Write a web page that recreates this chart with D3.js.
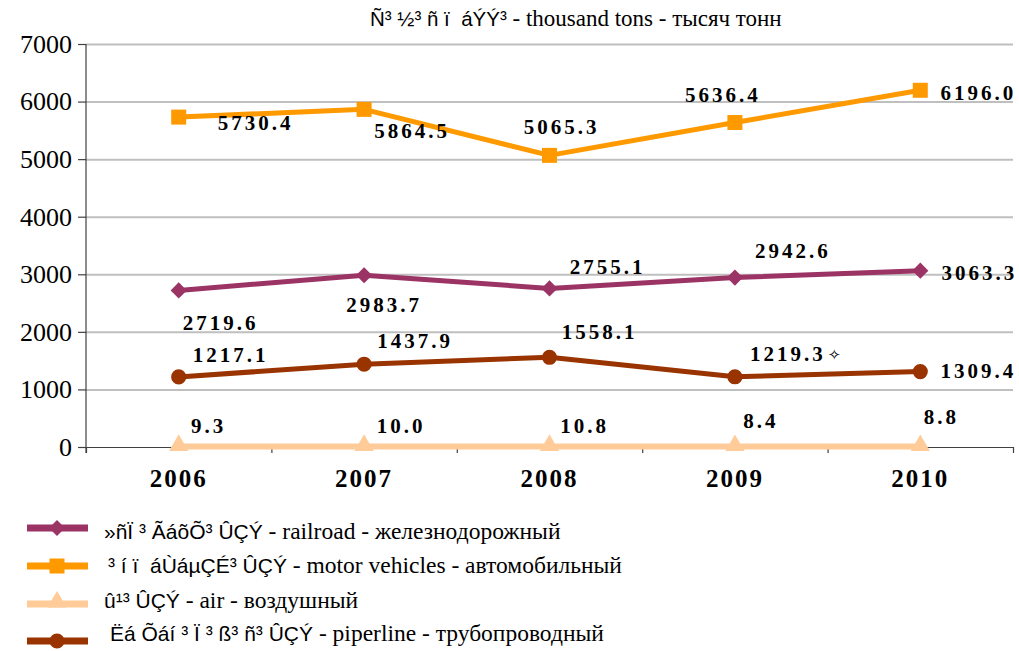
<!DOCTYPE html>
<html>
<head>
<meta charset="utf-8">
<script src="https://cdn.jsdelivr.net/npm/d3@7"></script>
<style>
  body { margin: 0; background: #fff; }
  svg { display: block; }
</style>
</head>
<body>
<svg width="1019" height="651"></svg>
<script>
// years on x axis
const years = ['2006', '2007', '2008', '2009', '2010'];
const yTicks = [0, 1000, 2000, 3000, 4000, 5000, 6000, 7000];

// thousand tons
const railroad = [2719.6, 2983.7, 2755.1, 2942.6, 3063.3];
const motor = [5730.4, 5864.5, 5065.3, 5636.4, 6196.0];
const air = [9.3, 10.0, 10.8, 8.4, 8.8];
const pipeline = [1217.1, 1437.9, 1558.1, 1219.3, 1309.4];

const titleArm = 'Ñ³ ½³ ñ ï  áÝÝ³';
const titleRest = ' - thousand tons - тысяч тонн';
const legendArm = ['»ñÏ ³ ÃáõÕ³ ÛÇÝ', '³ í ï  áÙáµÇÉ³ ÛÇÝ', 'û¹³ ÛÇÝ', 'Ëá Õáí ³ Ï ³ ß³ ñ³ ÛÇÝ'];
const legendRest = [' - railroad - железнодорожный', ' - motor vehicles - автомобильный', ' - air - воздушный', ' - piperline - трубопроводный'];

// label offsets (dx, dy) from each point, by series
const labelOffsets = [
  [[42, 40], [20, 37], [58, -14], [58, -20], [59, 9]],
  [[77, 13], [48, 29], [12, -21], [-12, -21], [58, 10]],
  [[30, -13], [37, -13], [35, -13], [26, -19], [21, -22]],
  [[52, -15], [51, -16], [50, -18], [53, -16], [58, 6]]
];

const series = [
  { name: 'railroad', values: railroad, color: '#9b3364', symbol: 'diamond', width: 5 },
  { name: 'motor', values: motor, color: '#ff9900', symbol: 'square', width: 5 },
  { name: 'air', values: air, color: '#ffcc99', symbol: 'triangle', width: 6 },
  { name: 'pipeline', values: pipeline, color: '#993300', symbol: 'circle', width: 5 }
];

const SERIF = "'Liberation Serif'";
const SANS = "'Liberation Sans'";

// set font through inline style
const font = (sel, fam, size, weight) => sel
  .attr('font-family', null)
  .attr('font-size', null)
  .style('font-family', fam)
  .style('font-size', size + 'px')
  .style('font-weight', weight || 'normal');

const svg = d3.select('svg');

const plotLeft = 86, plotRight = 1013, plotTop = 44, plotBottom = 447;

const xScale = d3.scaleBand()
  .domain(years)
  .range([plotLeft, plotRight]);

const xEdge = d3.scaleLinear().domain([0, years.length]).range([plotLeft, plotRight]);

const yScale = d3.scaleLinear()
  .domain([0, 7000])
  .range([plotBottom, plotTop]);

const cx = (i) => xScale(years[i]) + xScale.bandwidth() / 2;

// gridlines
const grid = svg.append('g')
  .attr('transform', `translate(${plotLeft},0)`)
  .call(d3.axisLeft(yScale).tickValues(yTicks.slice(1)).tickSize(-(plotRight - plotLeft)).tickFormat(''));
grid.select('.domain').remove();
grid.selectAll('line').style('stroke', '#bfbfbf').style('stroke-width', 2);

// y axis
const yAxis = svg.append('g')
  .attr('transform', `translate(${plotLeft},0)`)
  .call(d3.axisLeft(yScale).tickValues(yTicks).tickFormat(d3.format('d')).tickSize(8).tickSizeOuter(0).tickPadding(6));
font(yAxis, SERIF, 26);
yAxis.select('.domain').attr('d', `M0,${plotTop}V${plotBottom + 6}`);
yAxis.selectAll('path, line').style('stroke', '#404040').style('stroke-width', 1.2);
font(yAxis.selectAll('text'), SERIF, 26).style('fill', '#000');

// x axis with ticks on category edges
const xAxis = svg.append('g')
  .attr('transform', `translate(0,${plotBottom})`)
  .call(d3.axisBottom(xEdge).ticks(years.length).tickSize(6).tickSizeOuter(0).tickFormat(''));
xAxis.selectAll('path, line').style('stroke', '#404040').style('stroke-width', 1.2);

const xLab = svg.append('g')
  .attr('transform', `translate(0,${plotBottom})`)
  .call(d3.axisBottom(xScale).tickSize(0).tickPadding(22));
font(xLab, SERIF, 25, 'bold');
xLab.select('.domain').remove();
font(xLab.selectAll('text'), SERIF, 25, 'bold')
  .style('letter-spacing', '2px')
  .style('fill', '#000');

const symbols = {
  diamond: d3.symbol().type(d3.symbolSquare).size(130),
  square: d3.symbol().type(d3.symbolSquare).size(225),
  triangle: d3.symbol().type(d3.symbolTriangle).size(160),
  circle: d3.symbol().type(d3.symbolCircle).size(180)
};
const rot = (s) => s.symbol === 'diamond' ? ' rotate(45)' : '';

const line = d3.line()
  .x((d, i) => cx(i))
  .y((d) => yScale(d));

// draw air first
const order = [2, 3, 0, 1];
order.forEach((k) => {
  const s = series[k];
  const g = svg.append('g').attr('class', 'series-' + s.name);
  g.append('path')
    .attr('d', line(s.values))
    .attr('fill', 'none')
    .attr('stroke', s.color)
    .attr('stroke-width', s.width)
    .attr('stroke-linejoin', 'round');
  g.selectAll('path.mark')
    .data(s.values)
    .enter()
    .append('path')
    .attr('class', 'mark')
    .attr('d', symbols[s.symbol])
    .attr('transform', (d, i) => `translate(${cx(i)},${yScale(d) - (s.symbol === 'triangle' ? 1 : 0)})` + rot(s))
    .attr('fill', s.color);
});

// value labels
series.forEach((s, k) => {
  const labels = svg.append('g').selectAll('text')
    .data(s.values)
    .enter()
    .append('text')
    .attr('x', (d, i) => cx(i) + labelOffsets[k][i][0])
    .attr('y', (d, i) => yScale(d) + labelOffsets[k][i][1])
    .attr('text-anchor', 'middle')
    .style('fill', '#000')
    .style('letter-spacing', '3px')
    .text((d) => d.toFixed(1));
  font(labels, SERIF, 21, 'bold');
});

// the odd little star next to 1219.3
const starIdx = 3;
font(svg.append('text')
  .attr('x', cx(starIdx) + labelOffsets[3][starIdx][0] + 40)
  .attr('y', yScale(pipeline[starIdx]) + labelOffsets[3][starIdx][1] - 1)
  .text('✧'), "'DejaVu Sans'", 15);

// title
const title = svg.append('text')
  .attr('x', 370)
  .attr('y', 26)
  .style('white-space', 'pre');
font(title, SERIF, 23);
font(title.append('tspan').text(titleArm), SANS, 20.5);
font(title.append('tspan').text(titleRest), SERIF, 23);

// legend
const legY = [528, 566, 604, 641];
const legText = [539, 573, 608, 641];
const legX = [104, 108, 104, 110];
series.forEach((s, k) => {
  const g = svg.append('g').attr('transform', `translate(0,${legY[k]})`);
  g.append('line')
    .attr('x1', 27).attr('x2', 88)
    .attr('stroke', s.color)
    .attr('stroke-width', 7);
  g.append('path')
    .attr('d', symbols[s.symbol])
    .attr('transform', `translate(57,${s.symbol === 'triangle' ? -2 : 0})` + rot(s))
    .attr('fill', s.color);
  const t = svg.append('text')
    .attr('x', legX[k])
    .attr('y', legText[k])
    .style('white-space', 'pre');
  font(t, SERIF, 23.5);
  font(t.append('tspan').text(legendArm[k]), SANS, 21);
  font(t.append('tspan').text(legendRest[k]), SERIF, 23.5);
});
</script>
</body>
</html>
